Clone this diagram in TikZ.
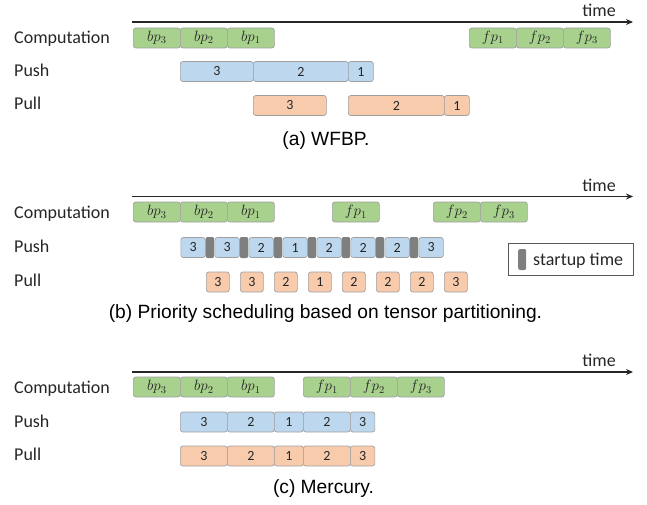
\documentclass[tikz,border=0pt]{standalone}
\usepackage{fix-cm}
\usepackage{fontspec}
\setmainfont{Carlito}
\newfontfamily\arialfont{Liberation Sans}
\usetikzlibrary{arrows.meta}
\definecolor{verde}{HTML}{A9D18E}
\definecolor{azul}{HTML}{BDD7EE}
\definecolor{laranja}{HTML}{F8CBAD}
\definecolor{cinza}{HTML}{7F7F7F}
\definecolor{borda}{HTML}{A0A0A0}
\definecolor{seta}{HTML}{262626}

\begin{document}
\begin{tikzpicture}[x=1pt, y=-1pt,
      bloco/.style={draw=borda, line width=0.7pt, rounded corners=2.5pt, inner sep=0pt,
        minimum height=20pt, anchor=west, text=black!85, font=\fontsize{14}{14}\selectfont},
      comp/.style={bloco, fill=verde, minimum width=47pt, font=\fontsize{15}{15}\selectfont},
      envia/.style={bloco, fill=azul},
      recebe/.style={bloco, fill=laranja},
      startup/.style={fill=cinza, rounded corners=2pt, minimum width=8.5pt, minimum height=21pt,
        inner sep=0pt, anchor=west},
      rotulo/.style={anchor=base west, inner sep=0pt, text=black!85, font=\fontsize{18}{18}\selectfont},
      legenda/.style={anchor=base, inner sep=0pt, font=\arialfont\fontsize{19.2}{19.2}\selectfont},
      eixo/.style={draw=seta, line width=1.2pt, -{Stealth[length=7pt, width=6pt]}}]

    \useasboundingbox (0,0) rectangle (647,505);

    % 1. Eixo do tempo e nomes das linhas em cada painel
    \foreach \p/\y/\yc/\ys/\yr in {a/22/38/71.5/105.5, b/196.5/212/247.5/282, c/372/387/422/456} {
      \coordinate (ini\p) at (132,\y);
      \coordinate (fim\p) at (633,\y);
      \draw [eixo] (ini\p) -- (fim\p);
      \node [rotulo, anchor=base east] (tempo\p) at (616,\y-5.5) {time};
      \node [rotulo] (comp\p) at (14,\yc+6) {Computation};
      \node [rotulo] (push\p) at (14,\ys+5) {Push};
      \node [rotulo] (pull\p) at (14,\yr+4.5) {Pull};
    }

    % 2. WFBP
    \foreach \x/\lab [count=\i] in {133/bp_3, 180/bp_2, 227/bp_1, 469/fp_1, 516/fp_2, 563/fp_3}
      \node [comp] (ca\i) at (\x,38) {$\lab$};
    \foreach \x/\w/\lab [count=\i] in {180/73/3, 253/95/2, 348/25/1}
      \node [envia, minimum width=\w] (sa\i) at (\x,71.5) {\lab};
    \foreach \x/\w/\lab [count=\i] in {253/73/3, 348/96/2, 444/25/1}
      \node [recebe, minimum width=\w] (ra\i) at (\x,105.5) {\lab};
    \node [legenda] (capa) at (326,146) {(a) WFBP.};

    % 3. particionamento com prioridade
    \foreach \x/\lab [count=\i] in {133/bp_3, 180/bp_2, 227/bp_1, 332/fp_1, 433/fp_2, 480/fp_3}
      \node [comp] (cb\i) at (\x,212) {$\lab$};
    \foreach \lab [count=\i] in {3,3,2,1,2,2,2,3} {
      \pgfmathsetmacro\xs{180.5+34*(\i-1)}
      \pgfmathsetmacro\xr{206+34*(\i-1)}
      \node [envia, minimum width=24.5] (sb\i) at (\xs,247.5) {\lab};
      \node [recebe, minimum width=23] (rb\i) at (\xr,282) {\lab};
    }
    \foreach \i in {1,...,7} {
      \pgfmathsetmacro\xg{205.5+34*(\i-1)}
      \node [startup] (gb\i) at (\xg,247.5) {};
    }
    \node [draw=black!65, line width=0.8pt, minimum width=125, minimum height=32, inner sep=0pt]
      (legcaixa) at (570.5,259) {};
    \node [startup, minimum width=8, minimum height=21] (legbarra) at (518,259.5) {};
    \node [rotulo] (legtexto) at (533,265) {startup time};
    \node [legenda] (capb) at (325.5,318) {(b) Priority scheduling based on tensor partitioning.};

    % 4. Mercury
    \foreach \x/\lab [count=\i] in {133/bp_3, 180/bp_2, 227/bp_1, 303/fp_1, 350/fp_2, 397/fp_3}
      \node [comp] (cc\i) at (\x,387) {$\lab$};
    \foreach \x/\w/\lab [count=\i] in {180/47/3, 227/47/2, 274/29/1, 303/47/2, 350/24.5/3} {
      \node [envia, minimum width=\w] (sc\i) at (\x,422) {\lab};
      \node [recebe, minimum width=\w] (rc\i) at (\x,456) {\lab};
    }
    \node [legenda] (capc) at (323.5,493) {(c) Mercury.};

\end{tikzpicture}
\end{document}
